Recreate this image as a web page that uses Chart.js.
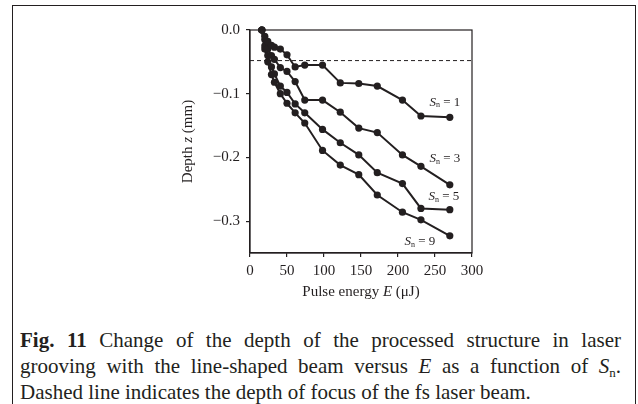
<!DOCTYPE html>
<html>
<head>
<meta charset="utf-8">
<script src="https://cdn.jsdelivr.net/npm/chart.js@4.4.0/dist/chart.umd.min.js"></script>
<style>
  html, body { margin: 0; padding: 0; background: #fff; }
  #page { position: relative; width: 638px; height: 404px; overflow: hidden; font-family: "Liberation Serif", "Times New Roman", serif; }
  #frame { position: absolute; left: 12px; top: 5px; width: 622px; height: 430px; border: 1.5px solid #231f20; }
  #plot { position: absolute; left: 0; top: 0; }
  #caption { position: absolute; left: 20px; top: 327px; width: 601px; font-size: 21px; line-height: 26px; color: #231f20; }
  #caption .full { text-align: justify; text-align-last: justify; white-space: nowrap; }
  #caption sub { font-size: 13px; line-height: 0; vertical-align: -4px; }
</style>
</head>
<body>
<div id="page">
  <div id="frame"></div>
  <canvas id="plot" width="638" height="310"></canvas>
  <div id="caption">
    <div class="full"><b>Fig. 11</b> Change of the depth of the processed structure in laser</div>
    <div class="full">grooving with the line-shaped beam versus <i>E</i> as a function of <i>S</i><sub>n</sub>.</div>
    <div>Dashed line indicates the depth of focus of the fs laser beam.</div>
  </div>
</div>
<script>
// pulse energy (uJ) shared by all series
const energy = [16, 20, 24, 29, 33, 41, 50, 61, 74, 98, 122, 147, 172, 206, 231, 270];
// depth z (mm) for each line number Sn
const depthS1 = [0, -0.010, -0.018, -0.024, -0.027, -0.030, -0.039, -0.058, -0.055, -0.055, -0.083, -0.084, -0.088, -0.110, -0.135, -0.137];
const depthS3 = [0, -0.015, -0.030, -0.040, -0.046, -0.059, -0.065, -0.081, -0.110, -0.110, -0.129, -0.154, -0.161, -0.196, -0.214, -0.243];
const depthS5 = [0, -0.025, -0.040, -0.058, -0.069, -0.088, -0.098, -0.116, -0.130, -0.156, -0.177, -0.196, -0.224, -0.241, -0.280, -0.282];
const depthS9 = [0, -0.030, -0.050, -0.070, -0.082, -0.100, -0.115, -0.130, -0.146, -0.189, -0.212, -0.227, -0.259, -0.286, -0.298, -0.323];
const snValues = ['1', '3', '5', '9'];
const focusDepth = -0.048;
const focusRange = [0, 300];
const xTicks = [0, 50, 100, 150, 200, 250, 300];
const yTicks = [0, -0.1, -0.2, -0.3];

const ink = '#231f20';
const serif = '"Liberation Serif", "Times New Roman", serif';
// label offset (px) from the last point of each series
const labelOffsets = [[-5, -15], [-5, -26], [-6, -13], [-30, 6]];

const allDepths = [depthS1, depthS3, depthS5, depthS9];

function drawParts(ctx, parts, cx, cy) {
  let total = 0;
  parts.forEach(p => { ctx.font = p.font; p.w = ctx.measureText(p.text).width; total += p.w; });
  let x = cx - total / 2;
  parts.forEach(p => {
    ctx.font = p.font;
    ctx.fillText(p.text, x, cy + (p.dy || 0));
    x += p.w;
  });
}

const decorPlugin = {
  id: 'decor',
  afterDraw(chart) {
    const ctx = chart.ctx;
    const area = chart.chartArea;
    const xs = chart.scales.x, ys = chart.scales.y;
    ctx.save();
    ctx.strokeStyle = ink;
    ctx.lineWidth = 1.2;
    ctx.strokeRect(area.left, area.top, area.right - area.left, area.bottom - area.top);
    ctx.fillStyle = ink;
    ctx.textBaseline = 'middle';

    // x title
    drawParts(ctx, [
      { text: 'Pulse energy ', font: '15px ' + serif },
      { text: 'E', font: 'italic 15px ' + serif },
      { text: ' (\u03bcJ)', font: '15px ' + serif }
    ], (area.left + area.right) / 2, 292);

    // y title
    ctx.save();
    ctx.translate(188, (area.top + area.bottom) / 2);
    ctx.rotate(-Math.PI / 2);
    drawParts(ctx, [
      { text: 'Depth ', font: '15px ' + serif },
      { text: 'z', font: 'italic 15px ' + serif },
      { text: ' (mm)', font: '15px ' + serif }
    ], 0, 0);
    ctx.restore();

    // Sn labels next to the end of each line
    allDepths.forEach((d, i) => {
      const last = d.length - 1;
      const px = xs.getPixelForValue(energy[last]) + labelOffsets[i][0];
      const py = ys.getPixelForValue(d[last]) + labelOffsets[i][1];
      drawParts(ctx, [
        { text: 'S', font: 'italic 13px ' + serif },
        { text: 'n', font: '8px ' + serif, dy: 3 },
        { text: ' = ' + snValues[i], font: '13px ' + serif }
      ], px, py);
    });
    ctx.restore();
  }
};

const seriesSets = allDepths.map((d, i) => ({
  label: 'Sn = ' + snValues[i],
  data: energy.map((e, k) => ({ x: e, y: d[k] })),
  borderColor: ink,
  backgroundColor: ink,
  borderWidth: 2,
  pointRadius: 3.6,
  pointBorderWidth: 0,
  clip: false
}));

seriesSets.push({
  label: 'focus',
  data: focusRange.map(e => ({ x: e, y: focusDepth })),
  borderColor: ink,
  borderWidth: 1,
  borderDash: [4, 3],
  pointRadius: 0
});

const ctx = document.getElementById('plot').getContext('2d');
const myChart = new Chart(ctx, {
  type: 'line',
  data: { datasets: seriesSets },
  options: {
    responsive: false,
    animation: false,
    layout: { padding: { top: 30, right: 166, left: 0, bottom: 0 } },
    plugins: { legend: { display: false }, tooltip: { enabled: false } },
    scales: {
      x: {
        type: 'linear',
        min: 0,
        max: 300,
        afterBuildTicks: s => { s.ticks = xTicks.map(v => ({ value: v })); },
        afterFit: s => { s.height = 57; },
        grid: { display: true, drawOnChartArea: false, drawTicks: true, tickLength: 4, color: ink, lineWidth: 1.2 },
        border: { display: true, color: ink, width: 1.2 },
        ticks: { color: ink, padding: 5, font: { family: serif, size: 15 } }
      },
      y: {
        type: 'linear',
        min: -0.35,
        max: 0,
        afterBuildTicks: s => { s.ticks = yTicks.map(v => ({ value: v })); },
        afterFit: s => { s.width = 250; },
        grid: { display: true, drawOnChartArea: false, drawTicks: true, tickLength: 4, color: ink, lineWidth: 1.2 },
        border: { display: true, color: ink, width: 1.2 },
        ticks: {
          color: ink,
          padding: 6,
          font: { family: serif, size: 15 },
          callback: v => v === 0 ? '0.0' : '\u2212' + Math.abs(v).toFixed(1)
        }
      }
    }
  },
  plugins: [decorPlugin]
});
</script>
</body>
</html>
